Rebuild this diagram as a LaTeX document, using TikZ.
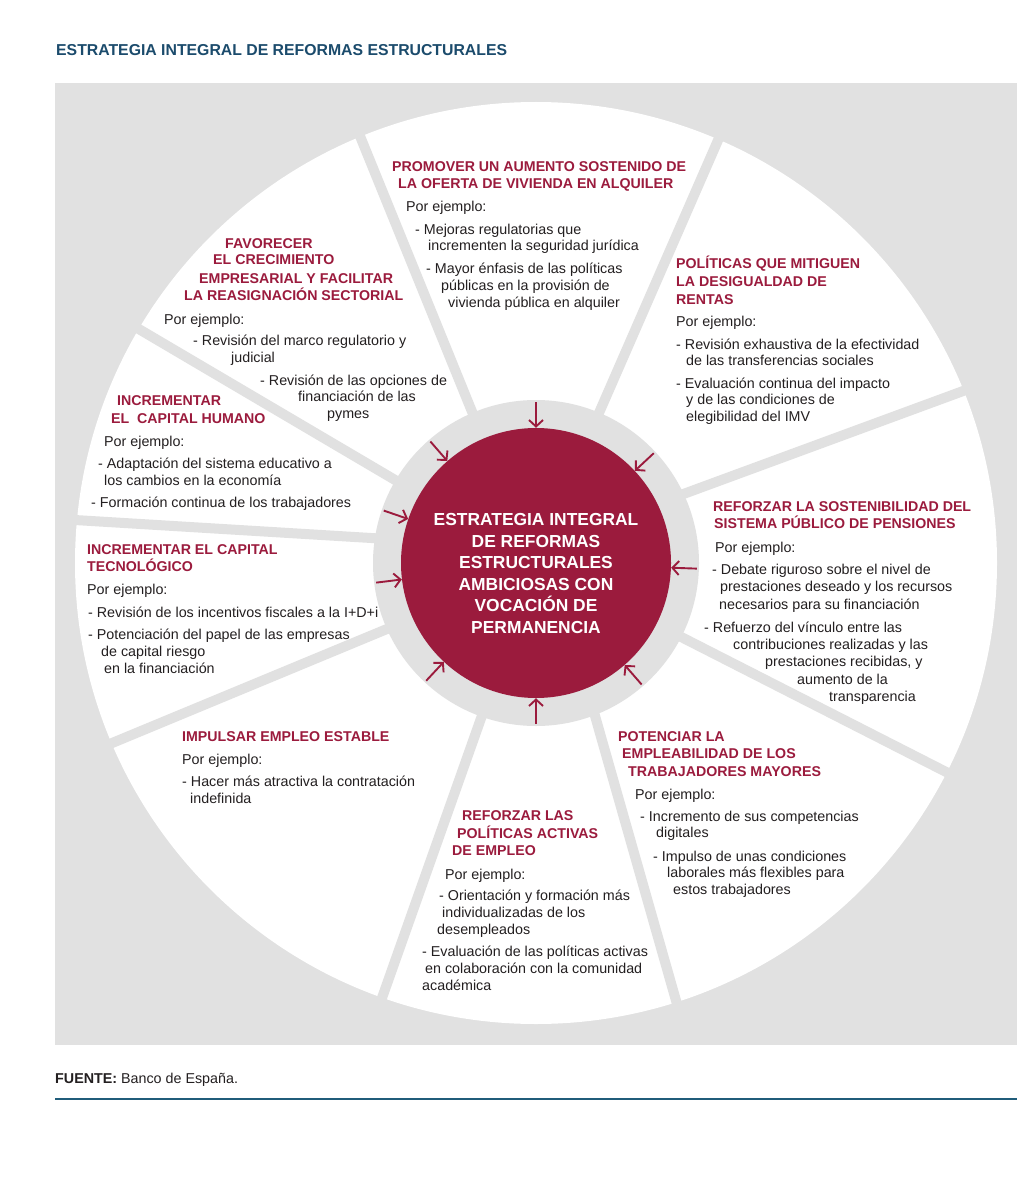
\documentclass[tikz,border=0pt]{standalone}
\usepackage{fontspec}
\setmainfont{Liberation Sans}
\usetikzlibrary{arrows.meta,calc}
\definecolor{crim}{RGB}{155,27,61}
\definecolor{bgrey}{RGB}{225,225,225}
\definecolor{tblue}{RGB}{27,75,108}
\definecolor{fline}{RGB}{32,92,122}
\definecolor{txt}{RGB}{35,31,32}
\newcommand\Ln[5]{\node[#1] (#2) at (#3,-#4) {#5};}
\begin{document}
\begin{tikzpicture}[x=1pt,y=1pt,
  hd/.style={anchor=base west,inner sep=0pt,text=crim,font=\fontsize{14.2}{17}\selectfont\bfseries},
  bd/.style={anchor=base west,inner sep=0pt,text=txt,font=\fontsize{14.3}{17}\selectfont},
  divider/.style={draw=bgrey,line width=10pt},
  inarrow/.style={draw=crim,line width=1.9pt,-{Straight Barb[length=6.5pt,width=14pt]}}]
\fill[white] (0,0) rectangle (1024,-1198);
\useasboundingbox (0,0) rectangle (1024,-1198);
\coordinate (C) at (536,-563);
% background panel and wheel
\fill[bgrey] (55,-83) rectangle (1017,-1045);
\fill[white] (C) circle[radius=461pt];
\foreach \a/\b in {113/112.4, 67.3/66.7, 25.5/21.9, -27/-27, -68.4/-72.3, -109.5/-109.5, 204/203, 170.8/174.7, 149.5/149.5}
  \draw[divider] ($(C)+(\a:150pt)$) -- ($(C)+(\b:470pt)$);
\fill[bgrey] (C) circle[radius=163pt];
\node[circle,fill=crim,minimum size=270pt,inner sep=0pt] (hub) at (C) {};
\node[text=white,font=\fontsize{17.4}{21.5}\selectfont\bfseries,align=center,inner sep=0pt] (core) at (536,-573.5)
  {ESTRATEGIA INTEGRAL\\DE REFORMAS\\ESTRUCTURALES\\AMBICIOSAS CON\\VOCACIÓN DE\\PERMANENCIA};
\foreach \a in {90,131,161,187,227,270,311,358,43}
  \draw[inarrow] ($(C)+(\a:161pt)$) -- (hub.\a);
% title
\node[anchor=base west,inner sep=0pt,text=tblue,font=\fontsize{15.8}{19}\selectfont\bfseries] (title) at (56,-56) {ESTRATEGIA INTEGRAL DE REFORMAS ESTRUCTURALES};
% A
\Ln{hd}{a1}{392}{172}{PROMOVER UN AUMENTO SOSTENIDO DE}
\Ln{hd}{a2}{398}{189}{LA OFERTA DE VIVIENDA EN ALQUILER}
\Ln{bd}{a3}{406}{212}{Por ejemplo:}
\Ln{bd}{a4}{415}{234}{- Mejoras regulatorias que}
\Ln{bd}{a5}{428}{251}{incrementen la seguridad jurídica}
\Ln{bd}{a6}{426}{273}{- Mayor énfasis de las políticas}
\Ln{bd}{a7}{441}{290}{públicas en la provisión de}
\Ln{bd}{a8}{448}{307}{vivienda pública en alquiler}
% B
\Ln{hd}{b1}{225}{248}{FAVORECER}
\Ln{hd}{b2}{213}{265}{EL CRECIMIENTO}
\Ln{hd}{b3}{199}{283}{EMPRESARIAL Y FACILITAR}
\Ln{hd}{b4}{184}{300}{LA REASIGNACIÓN SECTORIAL}
\Ln{bd}{b5}{164}{324}{Por ejemplo:}
\Ln{bd}{b6}{193}{345}{- Revisión del marco regulatorio y}
\Ln{bd}{b7}{231}{362}{judicial}
\Ln{bd}{b8}{260}{385}{- Revisión de las opciones de}
\Ln{bd}{b9}{298}{401}{financiación de las}
\Ln{bd}{b10}{327}{418}{pymes}
% C
\Ln{hd}{c1}{117}{405}{INCREMENTAR}
\Ln{hd}{c2}{111}{423}{EL\ \ CAPITAL HUMANO}
\Ln{bd}{c3}{104}{446}{Por ejemplo:}
\Ln{bd}{c4}{98}{468}{- Adaptación del sistema educativo a}
\Ln{bd}{c5}{104}{485}{los cambios en la economía}
\Ln{bd}{c6}{91}{507}{- Formación continua de los trabajadores}
% D
\Ln{hd}{d1}{87}{554}{INCREMENTAR EL CAPITAL}
\Ln{hd}{d2}{87}{571}{TECNOLÓGICO}
\Ln{bd}{d3}{87}{594}{Por ejemplo:}
\Ln{bd}{d4}{88}{617}{- Revisión de los incentivos fiscales a la I+D+i}
\Ln{bd}{d5}{88}{639}{- Potenciación del papel de las empresas}
\Ln{bd}{d6}{101}{656}{de capital riesgo}
\Ln{bd}{d7}{104}{673}{en la financiación}
% E
\Ln{hd}{e1}{182}{741}{IMPULSAR EMPLEO ESTABLE}
\Ln{bd}{e2}{182}{764}{Por ejemplo:}
\Ln{bd}{e3}{182}{786}{- Hacer más atractiva la contratación}
\Ln{bd}{e4}{190}{803}{indefinida}
% F
\Ln{hd}{f1}{462}{820}{REFORZAR LAS}
\Ln{hd}{f2}{457}{838}{POLÍTICAS ACTIVAS}
\Ln{hd}{f3}{452}{855}{DE EMPLEO}
\Ln{bd}{f4}{445}{879}{Por ejemplo:}
\Ln{bd}{f5}{439}{900}{- Orientación y formación más}
\Ln{bd}{f6}{442}{917}{individualizadas de los}
\Ln{bd}{f7}{437}{934}{desempleados}
\Ln{bd}{f8}{422}{956}{- Evaluación de las políticas activas}
\Ln{bd}{f9}{425}{973}{en colaboración con la comunidad}
\Ln{bd}{f10}{422}{990}{académica}
% G
\Ln{hd}{g1}{618}{741}{POTENCIAR LA}
\Ln{hd}{g2}{622}{758}{EMPLEABILIDAD DE LOS}
\Ln{hd}{g3}{628}{776}{TRABAJADORES MAYORES}
\Ln{bd}{g4}{635}{799}{Por ejemplo:}
\Ln{bd}{g5}{640}{821}{- Incremento de sus competencias}
\Ln{bd}{g6}{656}{837}{digitales}
\Ln{bd}{g7}{653}{861}{- Impulso de unas condiciones}
\Ln{bd}{g8}{667}{877}{laborales más flexibles para}
\Ln{bd}{g9}{673}{894}{estos trabajadores}
% H
\Ln{hd}{h1}{713}{511}{REFORZAR LA SOSTENIBILIDAD DEL}
\Ln{hd}{h2}{714}{528}{SISTEMA PÚBLICO DE PENSIONES}
\Ln{bd}{h3}{715}{552}{Por ejemplo:}
\Ln{bd}{h4}{712}{574}{- Debate riguroso sobre el nivel de}
\Ln{bd}{h5}{720}{591}{prestaciones deseado y los recursos}
\Ln{bd}{h6}{719}{609}{necesarios para su financiación}
\Ln{bd}{h7}{704}{632}{- Refuerzo del vínculo entre las}
\Ln{bd}{h8}{733}{649}{contribuciones realizadas y las}
\Ln{bd}{h9}{765}{666}{prestaciones recibidas, y}
\Ln{bd}{h10}{797}{684}{aumento de la}
\Ln{bd}{h11}{829}{701}{transparencia}
% I
\Ln{hd}{i1}{676}{269}{POLÍTICAS QUE MITIGUEN}
\Ln{hd}{i2}{676}{286}{LA DESIGUALDAD DE}
\Ln{hd}{i3}{676}{304}{RENTAS}
\Ln{bd}{i4}{676}{326}{Por ejemplo:}
\Ln{bd}{i5}{676}{349}{- Revisión exhaustiva de la efectividad}
\Ln{bd}{i6}{686}{365}{de las transferencias sociales}
\Ln{bd}{i7}{676}{388}{- Evaluación continua del impacto}
\Ln{bd}{i8}{686}{404}{y de las condiciones de}
\Ln{bd}{i9}{686}{421}{elegibilidad del IMV}
% footer
\Ln{bd}{src}{55}{1083}{\textbf{FUENTE:} Banco de España.}
\coordinate (fl1) at (55,-1099);
\coordinate (fl2) at (1017,-1099);
\draw[fline,line width=2pt] (fl1) -- (fl2);
\end{tikzpicture}
\end{document}
